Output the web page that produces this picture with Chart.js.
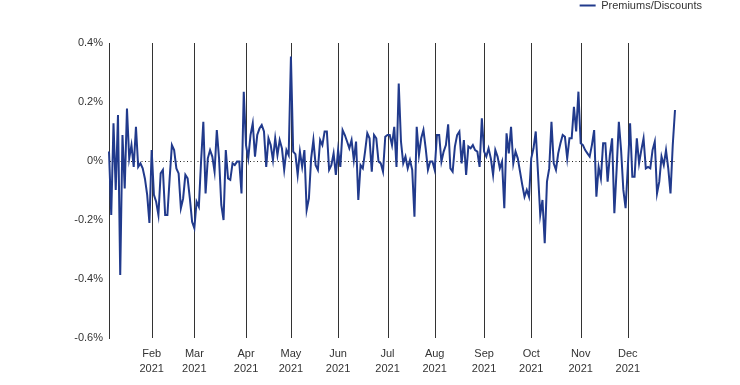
<!DOCTYPE html>
<html>
<head>
<meta charset="utf-8">
<script src="https://cdn.jsdelivr.net/npm/chart.js@4.4.1/dist/chart.umd.min.js"></script>
<style>
  html, body { margin: 0; padding: 0; background: #fff; }
</style>
</head>
<body>
<canvas id="premChart" width="740" height="385"></canvas>
<script>
// daily premium / discount (%), one array per month
var year = '2021';
var months = ['Jan', 'Feb', 'Mar', 'Apr', 'May', 'Jun', 'Jul', 'Aug', 'Sep', 'Oct', 'Nov', 'Dec'];

var jan = [0.032, -0.183, 0.128, -0.098, 0.156, -0.386, 0.088, -0.093, 0.178, 0.009,
           0.054, -0.02, 0.116, -0.02, -0.008, -0.025, -0.06, -0.115, -0.21];
var feb = [0.037, -0.115, -0.138, -0.183, -0.042, -0.03, -0.183, -0.183, -0.059, 0.054,
           0.037, -0.025, -0.042, -0.16, -0.127, -0.047, -0.059, -0.127, -0.206];
var mar = [-0.228, -0.138, -0.155, 0, 0.133, -0.11, 0.009, 0.037, 0.015, -0.036,
           0.105, 0.009, -0.149, -0.2, 0.037, -0.059, -0.064, -0.008, -0.014, -0.002,
           -0.002, -0.11, 0.235];
var apr = [0.054, 0.009, 0.088, 0.128, 0.015, 0.088, 0.11, 0.122, 0.1, -0.02,
           0.077, 0.054, 0.003, 0.077, 0.02, 0.071, 0.043, -0.03, 0.037, 0.02];
var may = [0.354, 0.032, 0.023, -0.047, 0.032, -0.02, 0.037, -0.166, -0.127, 0.009,
           0.071, -0.014, -0.03, 0.071, 0.054, 0.1, 0.1, -0.03, -0.014, 0.026, -0.047];
var jun = [0.037, -0.02, 0.105, 0.088, 0.066, 0.043, 0.071, 0.003, 0.066, -0.132,
           -0.014, -0.025, 0.032, 0.094, 0.077, -0.036, 0.088, 0.077, -0.002, -0.008,
           -0.036, 0.082];
var jul = [0.088, 0.088, 0.054, 0.116, -0.02, 0.263, 0.066, -0.008, 0.015, -0.025,
           0.003, -0.03, -0.189, 0.116, 0.02, 0.077, 0.105, 0.043, -0.03, -0.002, -0.002];
var aug = [-0.03, 0.088, 0.088, -0.002, 0.032, 0.054, 0.124, -0.025, -0.036, 0.049,
           0.088, 0.1, -0.008, 0.071, -0.047, 0.049, 0.043, 0.054, 0.037, 0.032,
           -0.02, 0.145];
var sep = [0.032, 0.015, 0.043, 0.009, -0.047, 0.037, 0.015, -0.025, -0.002, -0.16,
           0.094, 0.026, 0.116, -0.008, 0.032, 0.009, -0.036, -0.081, -0.121, -0.098, -0.121];
var oct = [0.009, 0.043, 0.1, -0.04, -0.183, -0.132, -0.279, -0.07, -0.025, 0.133,
           -0.008, -0.03, 0.026, 0.06, 0.088, 0.082, 0.009, 0.077, 0.077, 0.184,
           0.1, 0.235];
var nov = [0.06, 0.054, 0.037, 0.026, 0.015, 0.054, 0.105, -0.121, -0.02, -0.059,
           0.06, 0.06, -0.07, 0.02, 0.077, -0.177, -0.03, 0.133, 0.037, -0.098, -0.16];
var dec = [-0.02, 0.128, -0.053, -0.053, 0.077, -0.008, 0.037, 0.077, -0.025, -0.02,
           -0.025, 0.037, 0.066, -0.11, -0.07, 0.015, -0.014, 0.037, -0.025, -0.11,
           0.054, 0.173];

var yTicks = [-0.6, -0.4, -0.2, 0, 0.2, 0.4];

// flatten into one series, category label = month of each day
var byMonth = [jan, feb, mar, apr, may, jun, jul, aug, sep, oct, nov, dec];
var values = [];
var labels = [];
var monthStart = {};
byMonth.forEach(function (arr, m) {
  if (m > 0) monthStart[values.length] = true;
  arr.forEach(function (v) {
    values.push(v);
    labels.push(months[m]);
  });
});

function isZero(v) { return Math.abs(v) < 1e-9; }
function pct(v) { return isZero(v) ? '0%' : v.toFixed(1) + '%'; }

// push the plot area down below the legend line
var legendSpace = {
  id: 'legendSpace',
  beforeInit: function (chart) {
    var fit = chart.legend.fit;
    chart.legend.fit = function () {
      fit.call(this);
      this.height = 43;
    };
  }
};

// month separators, placed on the x scale at the first day of each month
var monthLines = {
  id: 'monthLines',
  beforeDatasetsDraw: function (chart) {
    var xs = chart.scales.x, area = chart.chartArea, c = chart.ctx;
    c.save();
    c.strokeStyle = '#333';
    c.lineWidth = 1;
    c.beginPath();
    Object.keys(monthStart).forEach(function (k) {
      var px = Math.round(xs.getPixelForValue(Number(k))) + 0.5;
      c.moveTo(px, area.top);
      c.lineTo(px, area.bottom);
    });
    c.stroke();
    c.restore();
  }
};

var font = 'Arial, "Liberation Sans", sans-serif';
var ctx = document.getElementById('premChart').getContext('2d');

var premChart = new Chart(ctx, {
  type: 'line',
  data: {
    labels: labels,
    datasets: [{
      label: 'Premiums/Discounts',
      data: values,
      borderColor: '#213a8c',
      backgroundColor: '#213a8c',
      borderWidth: 2,
      pointRadius: 0,
      tension: 0,
      fill: false
    }]
  },
  options: {
    responsive: false,
    animation: false,
    events: [],
    layout: { padding: { left: 0, right: 38, top: 0, bottom: 0 } },
    plugins: {
      tooltip: { enabled: false },
      legend: {
        position: 'top',
        align: 'end',
        labels: {
          boxWidth: 16,
          boxHeight: 2,
          padding: 0,
          color: '#333',
          font: { family: font, size: 11 },
          generateLabels: function (chart) {
            var items = Chart.defaults.plugins.legend.labels.generateLabels(chart);
            items.forEach(function (it) { it.lineWidth = 0; });
            return items;
          }
        }
      }
    },
    scales: {
      x: {
        grid: { display: false, drawTicks: false },
        border: { display: false },
        ticks: {
          autoSkip: false,
          maxRotation: 0,
          padding: 9,
          color: '#333',
          font: { family: font, size: 11, lineHeight: 1.35 },
          callback: function (v, i) {
            return monthStart[i] ? [labels[i], year] : null;
          }
        },
        afterFit: function (s) { s.height = 47; }
      },
      y: {
        min: yTicks[0],
        max: yTicks[yTicks.length - 1],
        afterBuildTicks: function (s) {
          s.ticks = yTicks.map(function (v) { return { value: v }; });
        },
        grid: {
          drawTicks: false,
          lineWidth: 1,
          color: function (c) { return c.tick && isZero(c.tick.value) ? '#222' : 'rgba(0,0,0,0)'; }
        },
        border: { display: true, color: '#333', width: 1, dash: [1, 2.5] },
        ticks: {
          padding: 6,
          color: '#333',
          font: { family: font, size: 11 },
          callback: function (v) { return pct(v); }
        },
        afterFit: function (s) { s.width = 109; }
      },
      yRight: {
        position: 'right',
        grid: { display: false },
        border: { display: false },
        ticks: { display: false },
        afterFit: function (s) { s.width = 27; }
      }
    }
  },
  plugins: [legendSpace, monthLines]
});
</script>
</body>
</html>
